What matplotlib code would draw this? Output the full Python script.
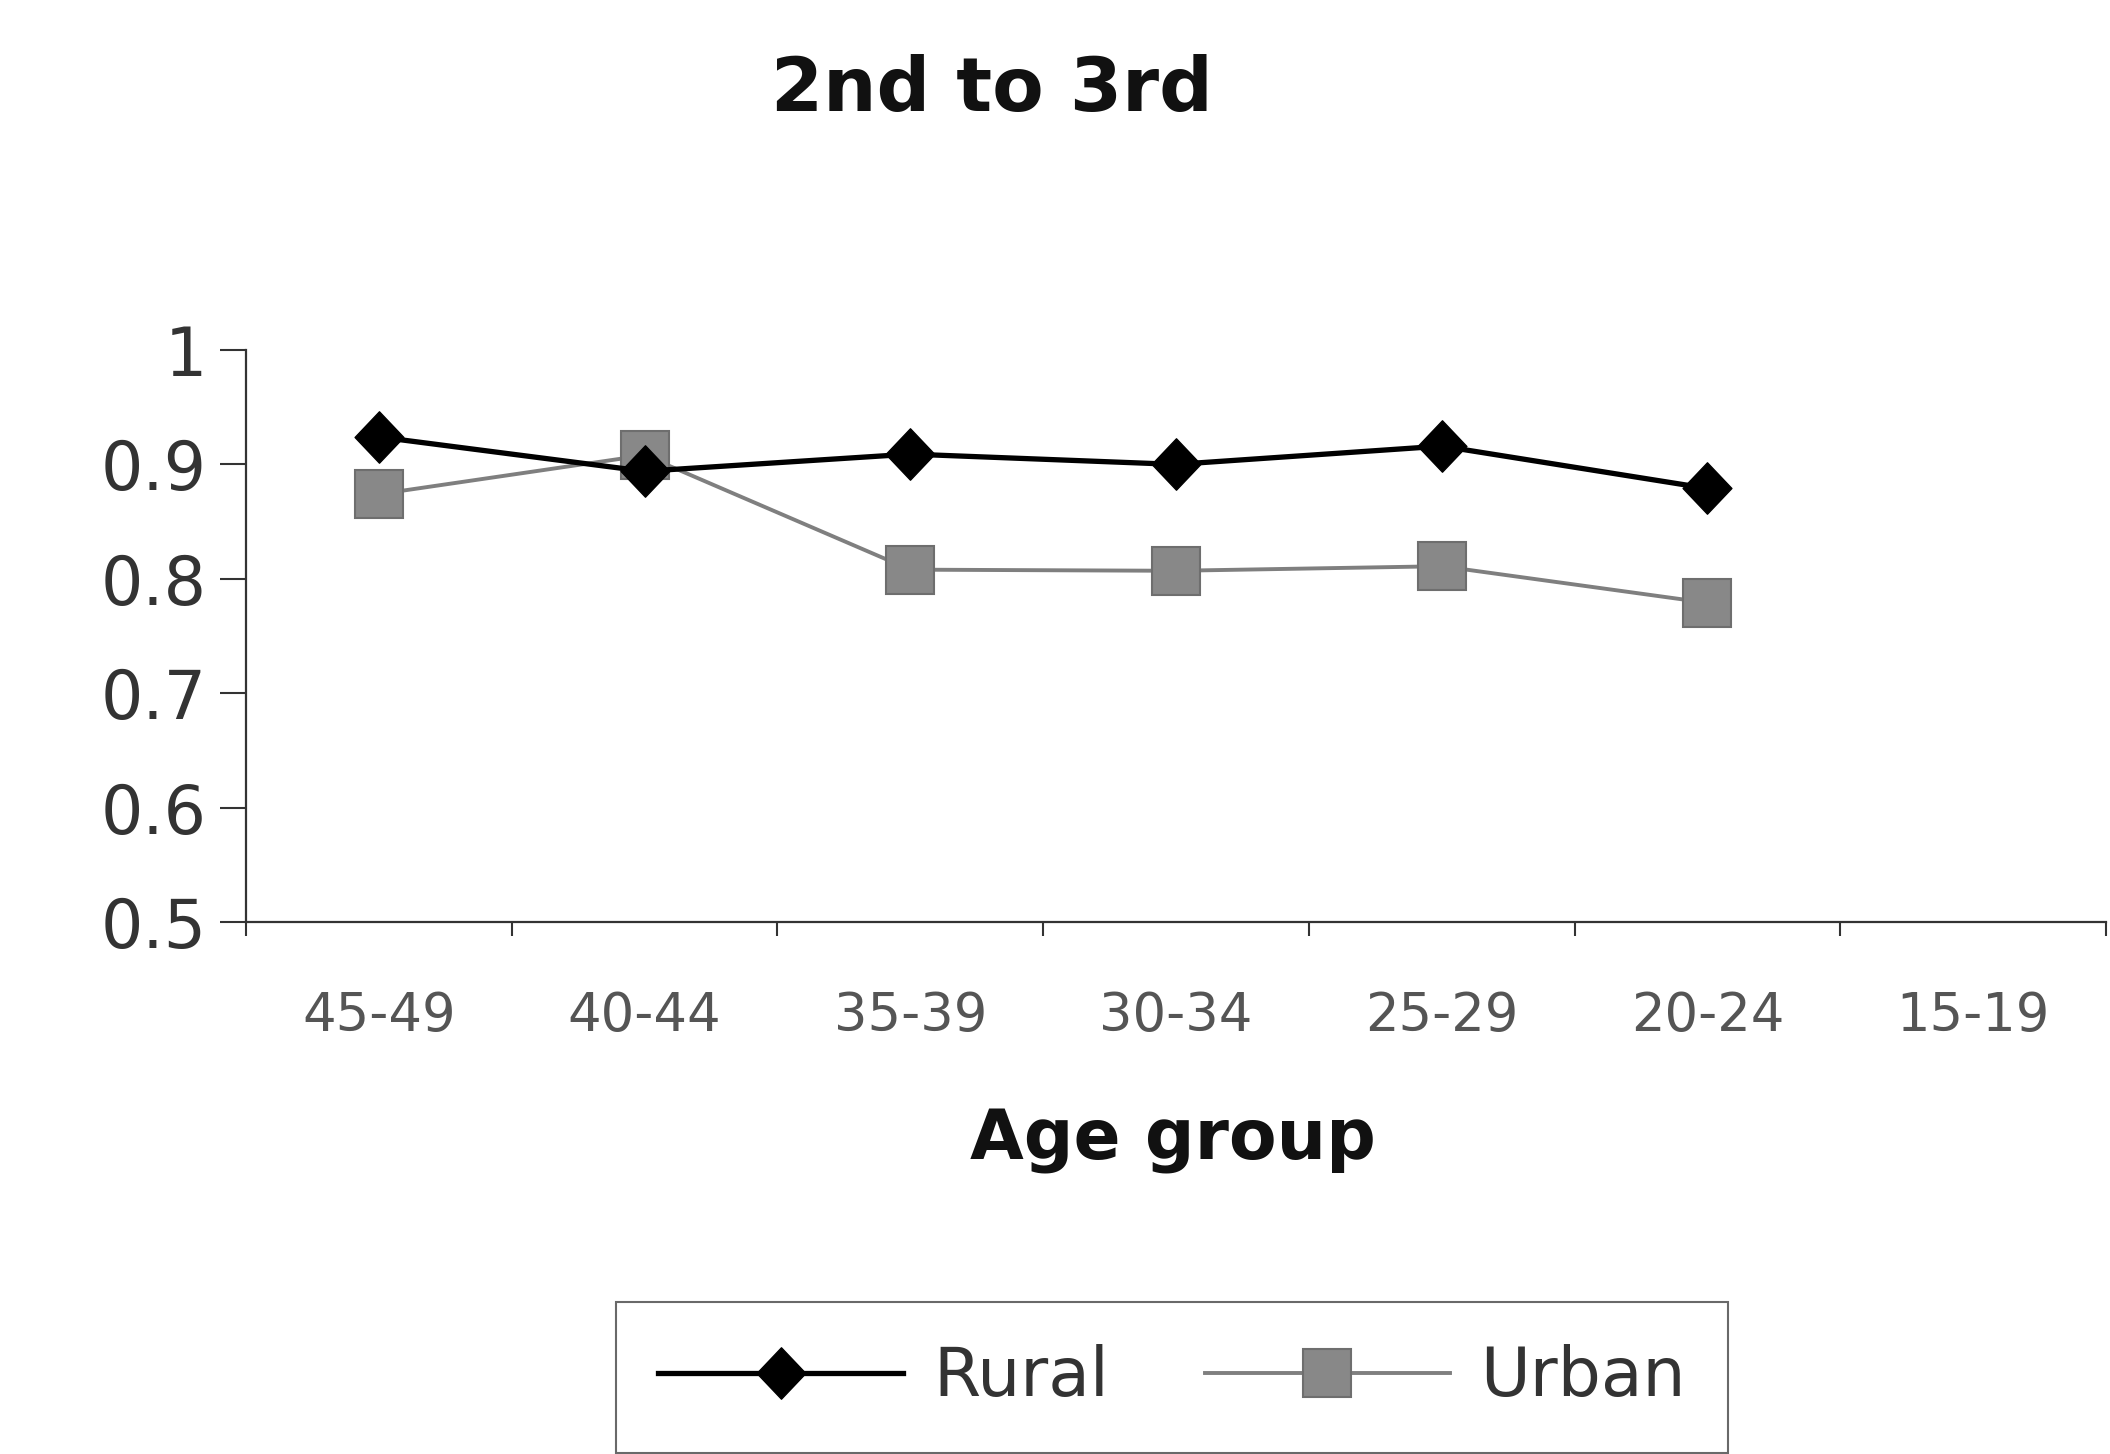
import matplotlib
matplotlib.use("Agg")
import matplotlib.pyplot as plt
from matplotlib.path import Path
import numpy as np

categories = ["45-49", "40-44", "35-39", "30-34", "25-29", "20-24", "15-19"]
rural = [0.924, 0.894, 0.909, 0.900, 0.916, 0.879]
urban = [0.874, 0.908, 0.808, 0.807, 0.811, 0.779]
yticks = [0.5, 0.6, 0.7, 0.8, 0.9, 1.0]
ytick_labels = ["0.5", "0.6", "0.7", "0.8", "0.9", "1"]

plt.rcParams['font.family'] = ['DejaVu Sans']

W, H = 2110, 1454
fig = plt.figure(figsize=(W / 100, H / 100), dpi=100)
ax = fig.add_axes([246 / W, 1 - 922 / H, (2106 - 246) / W, (922 - 350) / H])

diamond = Path([(0, 1), (0.95, 0), (0, -1), (-0.95, 0), (0, 1)],
               [Path.MOVETO, Path.LINETO, Path.LINETO, Path.LINETO, Path.CLOSEPOLY])

x_r = np.arange(len(rural))
x_u = np.arange(len(urban))
ax.plot(x_r, rural, color='black', lw=3.8, marker=diamond, markersize=37,
        markerfacecolor='black', markeredgecolor='black', label='Rural', zorder=3)
ax.plot(x_u, urban, color='#7f7f7f', lw=2.8, marker='s', markersize=35,
        markerfacecolor='#888888', markeredgecolor='#6e6e6e', markeredgewidth=1.5,
        label='Urban', zorder=2)

ax.set_xlim(-0.5, len(categories) - 0.5)
ax.set_ylim(0.5, 1.0)
ax.set_yticks(yticks)
ax.set_yticklabels(ytick_labels)
ax.set_xticks(np.arange(len(categories)))
ax.set_xticklabels(categories)
ax.set_xticks(np.arange(len(categories) + 1) - 0.5, minor=True)

for s in ['top', 'right']:
    ax.spines[s].set_visible(False)
for s in ['left', 'bottom']:
    ax.spines[s].set_linewidth(1.6)
    ax.spines[s].set_color('#333333')

ax.tick_params(axis='y', which='major', direction='out', length=19, width=1.5,
               labelsize=48, pad=9, colors='#333333', labelcolor='#333333')
ax.tick_params(axis='y', which='minor', length=0)
ax.tick_params(axis='x', which='major', length=0, labelsize=38, pad=49,
               labelcolor='#555555')
ax.tick_params(axis='x', which='minor', direction='out', length=10, width=1.5,
               colors='#333333')

fig.text(992 / W, 1 - 90 / H, "2nd to 3rd", ha='center', va='center',
         fontsize=54, fontweight='bold', color='#111111')
fig.text(1173 / W, 1 - 1141 / H, "Age group", ha='center', va='center',
         fontsize=50, fontweight='bold', color='#111111')

leg = fig.legend(loc='lower center', bbox_to_anchor=(1172 / W, 0.001), ncol=2,
                 fontsize=49, frameon=True, fancybox=False, shadow=False,
                 handlelength=3.6, handletextpad=0.45, columnspacing=1.4,
                 borderpad=0.62, borderaxespad=0.0,
                 edgecolor='#444444', labelcolor='#333333')
leg.get_frame().set_linewidth(1.5)

fig.savefig("out.png", dpi=100, facecolor='white')
